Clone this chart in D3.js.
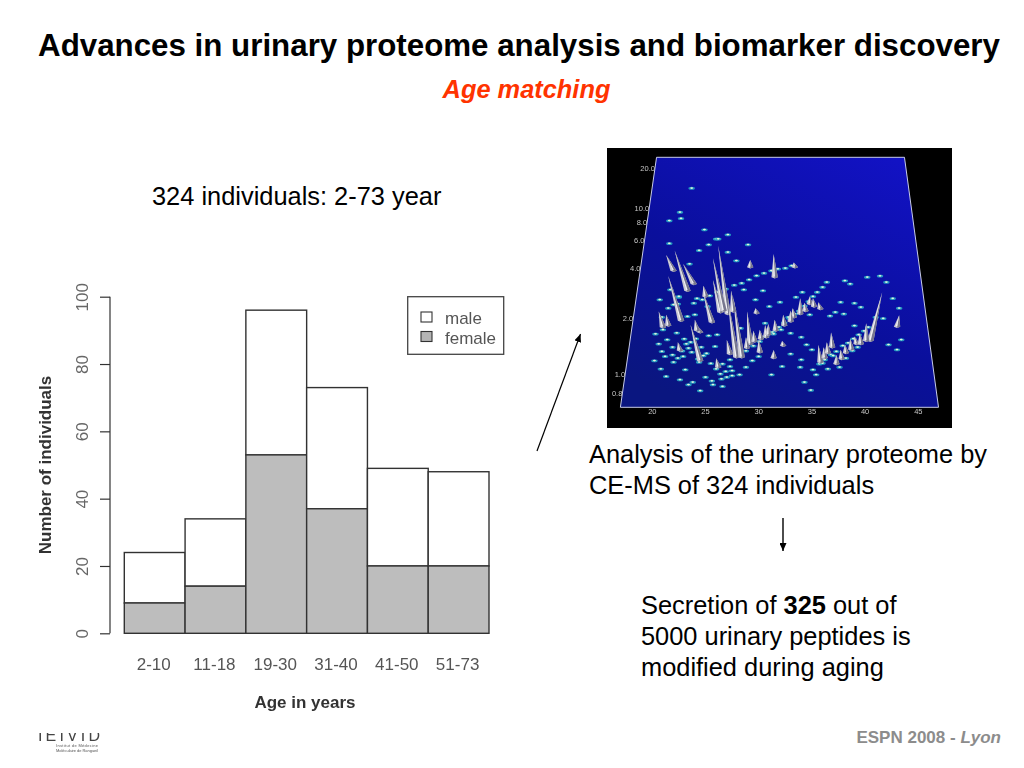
<!DOCTYPE html>
<html><head><meta charset="utf-8">
<script src="https://cdn.jsdelivr.net/npm/d3@7"></script>
<style>html,body{margin:0;padding:0;background:#fff;overflow:hidden}svg{display:block;font-family:"Liberation Sans",Arial,sans-serif}</style>
</head><body><svg id="c" width="1024" height="768"></svg>
<script>
// Histogram data
const ageGroups = ["2-10","11-18","19-30","31-40","41-50","51-73"];
const femaleCounts = [9,14,53,37,20,20];
const maleCounts = [15,20,43,36,29,28];
const yTicks = [0,20,40,60,80,100];
const legendLabels = ["male","female"];
// CE-MS surface: axis labels
const timeTicks = [20,25,30,35,40,45];
const massTicks = ["0.8","1.0","2.0","4.0","6.0","8.0","10.0","20.0"];
const massTickPos = [5.6,13.2,35.6,55.6,66.6,74,79.6,95.6];
// CE-MS surface: peaks (time, position, tip time, tip position)
const peakTime = [22.7,23.3,22.0,23.9,21.0,25.6,26.4,27.1,26.7,27.9,28.4,29.2,31.5,24.5,24.5,27.3,26.2,30.1,31.4,29.2,33.4,35.8,32.3,29.8,33.9,40.5,43.0,35.8,36.9,37.3,39.2,40.1,30.7,33.3,34.8,
 29.6,30.2,30.9,31.6,32.4,33.0,34.4,35.2,38.2,38.7,39.6,36.2,36.5,37.8,25.0,27.6,28.9,21.5,24.2,22.6];
const peakPos = [34.9,46.9,54.9,49.6,32.3,34.3,38.3,37.6,38.9,20.3,20.3,25.6,52.3,18.9,30.3,21.6,16.3,22.3,20.0,56.3,56.3,39.6,24.9,37.9,37.6,26.9,32.5,18.3,24.3,17.6,25.6,26.9,28.3,36.3,41.6,
 26.6,27.6,29.3,31.0,33.0,34.6,38.8,40.6,22.0,23.4,25.6,20.0,22.0,19.6,44.6,38.6,24.0,33.0,31.0,23.0];
const tipTime = [21.5,22.1,21.3,22.9,20.6,24.8,25.7,26.2,25.7,27.1,27.6,28.9,31.4,23.6,24.0,27.0,26.0,30.0,31.4,29.2,33.3,35.6,32.2,29.7,33.9,41.6,43.2,35.6,36.8,37.3,39.0,40.1,30.6,33.2,34.8,
 29.5,30.1,30.9,31.5,32.3,33.0,34.3,35.1,38.1,38.6,39.5,36.1,36.4,37.7,24.8,27.4,28.8,21.3,24.0,22.4];
const tipPos = [52.5,62.7,60.9,57.3,38.3,45.6,50.9,64.5,59.6,42.9,44.3,38.3,61.3,32.9,33.6,26.9,19.6,26.9,22.9,58.9,57.9,42.0,26.5,39.6,43.6,45.9,36.8,24.9,29.9,20.9,28.3,33.6,32.9,39.6,44.3,
 30.6,31.0,33.3,35.0,37.0,38.6,41.8,43.6,25.0,27.4,29.6,24.0,26.0,23.0,48.6,46.6,28.0,37.0,35.0,26.0];
// CE-MS surface: small spots
const spotTime = [26.0,26.6,27.3,28.1,28.8,29.5,30.1,30.7,31.3,31.9,32.4,32.9,33.4,33.8,34.3,34.7,35.1,35.5,36.0,36.4,
 23.9,24.7,25.4,26.1,26.9,27.7,28.4,29.1,29.8,30.5,31.2,31.8,32.5,33.1,
 35.1,35.7,36.2,36.8,37.3,37.9,38.4,38.9,39.4,39.9,40.3,
 20.3,20.6,21.0,21.4,21.9,22.3,22.8,23.2,23.7,24.1,24.6,25.1,25.5,20.2,20.8,21.3,22.0,22.6,23.1,23.8,24.4,25.0,25.7,26.4,
 20.7,21.5,22.4,23.3,24.2,25.2,26.1,20.9,21.7,22.5,23.4,24.5,25.6,26.6,27.3,
 21.6,22.7,23.5,24.4,25.3,26.0,27.1,27.9,28.6,29.7,30.4,31.0,32.0,33.0,
 34.0,34.5,35.0,35.4,33.9,34.3,34.9,38.1,38.6,37.7,39.0,39.6,40.2,41.4,42.0,42.6,43.2,41.0,41.7,43.4,43.0,42.2,36.7,37.2,38.0,39.0,34.0,33.0,32.2,31.2,
 21.6,22.6,23.7,24.9,26.2,29.0,27.1,28.3,
 20.9,21.2,21.9,22.4,22.9,23.4,24.3,24.8,25.3,25.9,26.9,27.5,28.2,28.8,29.4,30.0,30.6,31.4,32.1,32.8,33.5,34.1,34.8,
 22.0,22.5,23.0,23.6,24.0,26.5,27.0,27.5,36.0,36.5,37.0,37.6,38.2,38.8,39.3];
const spotPos = [15.3,17.3,19.0,20.5,22.5,24.5,26.3,28.3,30.0,32.0,33.8,35.5,37.3,38.5,40.5,42.3,44.3,46.0,48.0,50.0,
 41.6,43.0,44.6,46.0,47.3,48.8,49.6,51.0,52.6,53.6,54.6,55.3,55.6,56.6,
 15.0,17.3,19.0,21.0,22.3,24.6,25.7,27.4,29.0,30.5,32.0,
 29.3,25.3,31.0,27.0,24.0,29.7,22.5,25.3,22.0,27.4,24.0,21.5,17.5,18.6,15.3,12.3,18.0,11.0,15.0,10.0,18.0,12.0,9.0,13.3,
 43.0,39.6,41.3,36.3,43.5,40.3,29.0,36.0,47.0,44.0,9.0,6.6,10.5,8.3,16.3,
 65.5,75.5,57.3,62.7,65.0,67.3,62.0,58.6,47.0,43.0,46.6,40.3,42.0,29.6,
 28.0,25.0,23.0,13.0,16.0,10.0,6.8,50.6,49.3,42.0,41.6,40.0,52.0,52.5,50.0,43.5,39.6,36.0,35.5,27.0,23.0,25.0,36.5,38.0,37.3,32.6,19.0,21.3,16.3,13.0,
 74.6,78.0,87.6,71.0,67.3,65.0,69.0,31.6,
 22.3,20.3,20.9,19.6,20.3,23.6,19.3,20.6,28.6,24.3,14.3,12.6,13.0,16.0,18.6,20.3,33.6,29.3,31.0,36.0,44.0,46.0,37.0,
 41.0,44.3,27.3,26.0,37.0,11.3,12.0,14.6,17.6,15.3,20.6,16.0,19.6,22.6,24.0];

const svg = d3.select("#c");
const defs = svg.append("defs");
defs.append("filter").attr("id","soft").append("feGaussianBlur").attr("stdDeviation",0.45);
defs.append("filter").attr("id","softer").append("feGaussianBlur").attr("stdDeviation",0.7);
defs.append("filter").attr("id","logoBlur").append("feGaussianBlur").attr("stdDeviation",0.5);
const grad = defs.append("linearGradient").attr("id","floor").attr("x1","85%").attr("y1","0%").attr("x2","25%").attr("y2","100%");
grad.append("stop").attr("offset","0%").attr("stop-color","#1212c4");
grad.append("stop").attr("offset","55%").attr("stop-color","#0a0f9c");
grad.append("stop").attr("offset","100%").attr("stop-color","#0a1680");
defs.append("marker").attr("id","arrowA").attr("markerUnits","userSpaceOnUse").attr("markerWidth",8).attr("markerHeight",7)
   .attr("refX",8).attr("refY",3.5).attr("orient","auto")
   .append("path").attr("d","M0,0L8,3.5L0,7Z").attr("fill","#000");

// Title
svg.append("text").attr("x",519).attr("y",56).attr("text-anchor","middle").attr("font-weight","bold").attr("font-size",31.3).attr("fill","#000")
  .text("Advances in urinary proteome analysis and biomarker discovery");
svg.append("text").attr("x",526.5).attr("y",98).attr("text-anchor","middle").attr("font-weight","bold").attr("font-style","italic").attr("font-size",25.4).attr("fill","#ff3300").text("Age matching");
svg.append("text").attr("x",152).attr("y",205).attr("font-size",25.4).attr("fill","#000").text("324 individuals: 2-73 year");

// Histogram
const chart = svg.append("g").attr("filter","url(#soft)");
const x = d3.scaleBand().domain(ageGroups).range([124.3,489]).padding(0);
const y = d3.scaleLinear().domain([0,100]).range([633.3,296.7]);
const ink = "#333";
const yAxis = d3.axisLeft(y).tickValues(yTicks).tickSize(10).tickPadding(8);
const ag = chart.append("g").attr("transform","translate(110,0)").call(yAxis);
ag.selectAll("path").attr("stroke",ink).attr("stroke-width",1.2).attr("d",`M0,${y(100)}V${y(0)}`);
ag.selectAll("line").attr("stroke",ink).attr("stroke-width",1.2);
ag.selectAll("text").attr("font-family","Liberation Sans").attr("font-size",17).attr("fill","#666")
  .attr("text-anchor","middle").attr("dy",0).attr("x",0).attr("y",0)
  .attr("transform","translate(-22,0) rotate(-90)");
ageGroups.forEach((g,i)=>{
  chart.append("rect").attr("x",x(g)).attr("width",x.bandwidth()).attr("y",y(femaleCounts[i]+maleCounts[i])).attr("height",y(0)-y(maleCounts[i])).attr("fill","#fff").attr("stroke",ink).attr("stroke-width",1.4);
  chart.append("rect").attr("x",x(g)).attr("width",x.bandwidth()).attr("y",y(femaleCounts[i])).attr("height",y(0)-y(femaleCounts[i])).attr("fill","#bdbdbd").attr("stroke",ink).attr("stroke-width",1.4);
  chart.append("text").attr("x",x(g)+x.bandwidth()/2-1).attr("y",670).attr("text-anchor","middle").attr("font-size",17).attr("fill","#555").text(g);
});
chart.append("text").attr("x",305).attr("y",708).attr("text-anchor","middle").attr("font-weight","bold").attr("font-size",17).attr("fill","#333").text("Age in years");
chart.append("text").attr("transform","translate(51,465) rotate(-90)").attr("text-anchor","middle").attr("font-weight","bold").attr("font-size",17).attr("fill","#333").text("Number of individuals");
// Legend
chart.append("rect").attr("x",407.7).attr("y",296.7).attr("width",96).attr("height",57.6).attr("fill","#fff").attr("stroke","#444").attr("stroke-width",1.3);
legendLabels.forEach((l,i)=>{
  chart.append("rect").attr("x",421).attr("y",312+i*19.5).attr("width",11).attr("height",10).attr("fill",i?"#b4b4b4":"#fff").attr("stroke","#333").attr("stroke-width",1.1);
  chart.append("text").attr("x",445).attr("y",324+i*19.5).attr("font-size",17).attr("fill","#555").text(l);
});

// CE-MS surface picture
const pic = svg.append("g");
pic.append("rect").attr("x",607).attr("y",148).attr("width",345).attr("height",280).attr("fill","#000");
const tx = d3.scaleLinear().domain([20,45]).range([652.3,918.3]);
const ty = d3.scaleLinear().domain([0,100]).range([407.3,157.3]);
const floorPts = [[tx(17.0),ty(0)],[tx(46.9),ty(0)],[tx(43.7),ty(100)],[tx(20.4),ty(100)]];
pic.append("path").attr("d",d3.line()(floorPts)+"Z").attr("fill","url(#floor)").attr("stroke","#c8cce8").attr("stroke-width",1);
const spots = pic.append("g").attr("filter","url(#softer)");
spotTime.forEach((t,i)=>{
  spots.append("ellipse").attr("cx",tx(t)).attr("cy",ty(spotPos[i])).attr("rx",3.2).attr("ry",1.5).attr("fill","#25a5c4").attr("opacity",0.9);
  spots.append("ellipse").attr("cx",tx(t)).attr("cy",ty(spotPos[i])-0.2).attr("rx",1.5).attr("ry",0.8).attr("fill","#e6f6dc");
});
const peaks = pic.append("g").attr("filter","url(#soft)");
peakTime.forEach((t,i)=>{
  const bx=tx(t), by=ty(peakPos[i]), tipx=tx(tipTime[i]), tipy=ty(tipPos[i]);
  peaks.append("path").attr("d",d3.line()([[bx-3.2,by+0.6],[tipx,tipy],[bx+3.2,by+0.6],[bx,by+2]])+"Z").attr("fill","#c9c9d4");
  peaks.append("path").attr("d",d3.line()([[bx,by+2],[tipx,tipy],[bx+3.2,by+0.6]])+"Z").attr("fill","#77778e");
  peaks.append("path").attr("d",d3.line()([[bx-1.2,by],[tipx,tipy],[bx+0.2,by]])+"Z").attr("fill","#f4f4f6");
});
const picLabels = pic.append("g").attr("filter","url(#logoBlur)").attr("fill","#c6c6c6").attr("font-size",7.5);
timeTicks.forEach(t=>picLabels.append("text").attr("x",tx(t)).attr("y",414).attr("text-anchor","middle").text(t));
massTicks.forEach((m,i)=>{
  const v=massTickPos[i];
  picLabels.append("text").attr("x",tx(17.0)+(tx(20.4)-tx(17.0))*v/100).attr("y",ty(v)+2.5).attr("text-anchor","end").text(m);
});

// Arrows
svg.append("line").attr("x1",537).attr("y1",451).attr("x2",580.5).attr("y2",334).attr("stroke","#000").attr("stroke-width",1.2).attr("marker-end","url(#arrowA)");
svg.append("line").attr("x1",783).attr("y1",518).attr("x2",783).attr("y2",551).attr("stroke","#000").attr("stroke-width",1.4).attr("marker-end","url(#arrowA)");

// Captions
const cap = (xp,yp,parts)=>{const t=svg.append("text").attr("x",xp).attr("y",yp).attr("font-size",25.4).attr("fill","#000");parts.forEach(([s,b])=>t.append("tspan").attr("font-weight",b?"bold":"normal").text(s));};
cap(589,463,[["Analysis of the urinary proteome by"]]);
cap(589,494,[["CE-MS of 324 individuals"]]);
cap(641,614,[["Secretion of "],["325",1],[" out of"]]);
cap(641,645,[["5000 urinary peptides is"]]);
cap(641,676,[["modified during aging"]]);

// Footer
const foot=svg.append("text").attr("x",1001).attr("y",743).attr("text-anchor","end").attr("font-size",17).attr("font-weight","bold").attr("fill","#8c8c8c");
foot.append("tspan").text("ESPN 2008 - ");
foot.append("tspan").attr("font-style","italic").text("Lyon");
// Logo
const logo=svg.append("g").attr("filter","url(#logoBlur)");
logo.append("clipPath").attr("id","logoClip").append("rect").attr("x",36).attr("y",733).attr("width",70).attr("height",30);
logo.append("text").attr("x",38).attr("y",741).attr("clip-path","url(#logoClip)").attr("font-size",16).attr("fill","#444").attr("textLength",62).text("IEIVID");
logo.append("text").attr("x",56).attr("y",747).attr("font-size",4).attr("fill","#555").attr("textLength",42).text("Institut de Médecine");
logo.append("text").attr("x",56).attr("y",752).attr("font-size",4).attr("fill","#555").attr("textLength",42).text("Moléculaire de Rangueil");
</script></body></html>
